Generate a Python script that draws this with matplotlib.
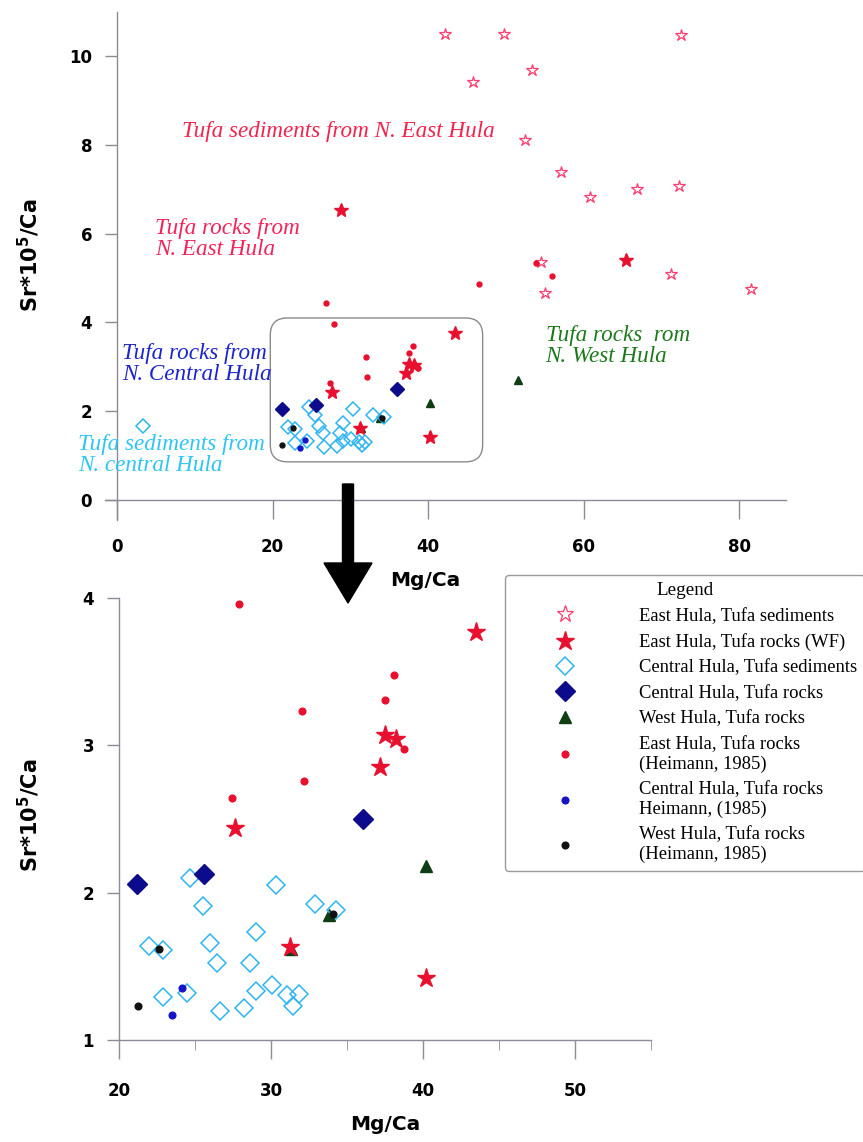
import matplotlib
matplotlib.use("Agg")
import matplotlib.pyplot as plt
from matplotlib.patches import FancyArrow, FancyBboxPatch
from matplotlib.lines import Line2D

plt.rcParams['font.family'] = 'DejaVu Sans'
plt.rcParams['mathtext.fontset'] = 'dejavusans'

# East Hula, tufa sediments
ehs_x = [42.1, 49.7, 72.5, 53.4, 45.8, 52.4, 57.1, 60.8, 66.8, 72.3, 54.5, 55.0, 71.2, 81.5]
ehs_y = [10.49, 10.50, 10.47, 9.69, 9.42, 8.10, 7.39, 6.83, 7.00, 7.08, 5.37, 4.66, 5.08, 4.76]

# East Hula, tufa rocks (WF)
ehr_x = [43.5, 37.5, 38.2, 37.2, 27.65, 31.25, 40.2, 28.8, 65.4]
ehr_y = [3.77, 3.07, 3.04, 2.85, 2.44, 1.63, 1.42, 6.53, 5.41]

# Central Hula, tufa sediments
chs_x = [24.65, 30.3, 25.5, 32.87, 34.26, 29.0, 22.0, 22.9, 26.0, 26.47,
         28.64, 30.09, 29.0, 31.07, 31.86, 31.47, 28.24, 26.62, 24.47, 22.9, 3.4]
chs_y = [2.10, 2.05, 1.91, 1.92, 1.88, 1.73, 1.64, 1.61, 1.66, 1.52,
         1.52, 1.37, 1.33, 1.305, 1.31, 1.23, 1.215, 1.20, 1.32, 1.29, 1.67]

# Central Hula, tufa rocks
chr_x = [21.2, 25.57, 36.03]
chr_y = [2.06, 2.13, 2.50]

# West Hula, tufa rocks
whr_x = [40.2, 51.5, 33.8, 31.3]
whr_y = [2.18, 2.70, 1.85, 1.62]

# Heimann (1985) tufa rocks
ehh_x = [27.9, 38.07, 37.48, 32.04, 38.73, 32.17, 27.41, 26.9, 46.5, 53.9, 55.9]
ehh_y = [3.96, 3.48, 3.31, 3.23, 2.975, 2.76, 2.645, 4.44, 4.87, 5.33, 5.05]
chh_x = [24.17, 23.5]
chh_y = [1.35, 1.17]
whh_x = [21.23, 22.65, 34.08]
whh_y = [1.23, 1.62, 1.855]

labels = ["East Hula, Tufa sediments", "East Hula, Tufa rocks (WF)",
          "Central Hula, Tufa sediments", "Central Hula, Tufa rocks",
          "West Hula, Tufa rocks", "East Hula, Tufa rocks\n(Heimann, 1985)",
          "Central Hula, Tufa rocks\nHeimann, (1985)",
          "West Hula, Tufa rocks\n(Heimann, 1985)"]

PINK = '#ff3d6e'
RED = '#e8102e'
CYAN = '#2fb4f2'
NAVY = '#0b0b8c'
DKGREEN = '#0f3d14'
BLUE = '#1414c8'


def draw_points(ax, s):
    h = []
    h.append(ax.plot(ehs_x, ehs_y, ls='none', marker='*', ms=11 * s, mfc='none',
                     mec=PINK, mew=0.9, label=labels[0], zorder=3)[0])
    h.append(ax.plot(whr_x, whr_y, ls='none', marker='^', ms=7 * s, color=DKGREEN,
                     label=labels[4], zorder=3)[0])
    h.append(ax.plot(ehr_x, ehr_y, ls='none', marker='*', ms=12 * s, color=RED,
                     mec=RED, label=labels[1], zorder=4)[0])
    h.append(ax.plot(chs_x, chs_y, ls='none', marker='D', ms=8 * s, mfc='none',
                     mec=CYAN, mew=1.1, label=labels[2], zorder=4)[0])
    h.append(ax.plot(chr_x, chr_y, ls='none', marker='D', ms=8.5 * s, color=NAVY,
                     label=labels[3], zorder=4)[0])
    h.append(ax.plot(ehh_x, ehh_y, ls='none', marker='o', ms=4.2 * s, color=RED,
                     label=labels[5], zorder=5)[0])
    h.append(ax.plot(chh_x, chh_y, ls='none', marker='o', ms=4.2 * s, color=BLUE,
                     label=labels[6], zorder=5)[0])
    h.append(ax.plot(whh_x, whh_y, ls='none', marker='o', ms=4.2 * s, color='#111111',
                     label=labels[7], zorder=5)[0])
    order = [0, 2, 3, 4, 1, 5, 6, 7]
    return [h[i] for i in order]


def style_axis(ax):
    for side in ['top', 'right']:
        ax.spines[side].set_visible(False)
    for side in ['left', 'bottom']:
        ax.spines[side].set_color('#8c8c98')
        ax.spines[side].set_linewidth(1.0)
    ax.tick_params(colors='#8c8c98', labelcolor='black', width=1.0)
    for lab in ax.get_xticklabels() + ax.get_yticklabels():
        lab.set_fontweight('bold')
        lab.set_fontsize(12)


ylabel = r'Sr*10$^{\mathbf{5}}$/Ca'

fig = plt.figure(figsize=(8.63, 11.42), dpi=100)

# overview panel
ax1 = fig.add_axes([104.6 / 863, 622 / 1142, 681.4 / 863, 508.4 / 1142])
draw_points(ax1, 0.85)
ax1.set_xlim(-1.6, 86)
ax1.set_ylim(-0.45, 11.0)
ax1.spines['left'].set_position(('data', 0))
ax1.spines['bottom'].set_position(('data', 0))
ax1.set_xticks([0, 20, 40, 60, 80])
ax1.set_yticks([0, 2, 4, 6, 8, 10])
ax1.tick_params(axis='x', direction='out', length=14, pad=13)
ax1.tick_params(axis='y', direction='out', length=9, pad=9)
style_axis(ax1)
ax1.set_xlabel('Mg/Ca', fontsize=14.5, fontweight='bold')
ax1.xaxis.set_label_coords(0.470, -0.100)
ax1.set_ylabel(ylabel, fontsize=15, fontweight='bold')
ax1.yaxis.set_label_coords(-0.092, 0.521)

# zoom frame around the clustered samples
frame = FancyBboxPatch((19.7, 0.86), 27.3, 3.24,
                       boxstyle='round,pad=0,rounding_size=2.2',
                       mutation_aspect=7.78 / 44.4, fc='none', ec='#8a8a8a',
                       lw=1.0, zorder=2)
ax1.add_patch(frame)

tfont = dict(family='Liberation Serif', style='italic', fontsize=16.7,
             va='center', ha='left', linespacing=1.0)
ax1.text(8.35, 8.31, 'Tufa sediments from N. East Hula', color='#f2234d', **tfont)
ax1.text(4.9, 5.87, 'Tufa rocks from\nN. East Hula', color='#f2235a', **tfont)
ax1.text(0.64, 3.07, 'Tufa rocks from\nN. Central Hula', color='#1c24cc', **tfont)
ax1.text(-5.0, 1.02, 'Tufa sediments from\nN. central Hula', color='#2ec4f4', **tfont)
ax1.text(55.1, 3.47, 'Tufa rocks  rom\nN. West Hula', color='#1c7a1c', **tfont)

# detail panel
ax2 = fig.add_axes([119 / 863, 102 / 1142, 532 / 863, 442 / 1142])
handles = draw_points(ax2, 1.15)
ax2.set_xlim(20, 55)
ax2.set_ylim(1, 4)
ax2.set_xticks([20, 30, 40, 50])
ax2.set_xticks([25, 35, 45, 55], minor=True)
ax2.set_yticks([1, 2, 3, 4])
ax2.tick_params(axis='x', which='major', direction='out', length=14, pad=16)
ax2.tick_params(axis='x', which='minor', direction='out', length=7, color='#8c8c98')
ax2.tick_params(axis='y', direction='out', length=9, pad=9)
style_axis(ax2)
ax2.set_xlabel('Mg/Ca', fontsize=14.5, fontweight='bold')
ax2.xaxis.set_label_coords(0.500, -0.170)
ax2.set_ylabel(ylabel, fontsize=15, fontweight='bold')
ax2.yaxis.set_label_coords(-0.145, 0.509)

# arrow linking the two panels
fig.add_artist(FancyArrow(3.48, 6.58, 0, -1.19, width=0.11, head_width=0.48,
                          head_length=0.40, length_includes_head=True,
                          color='black', transform=fig.dpi_scale_trans))

leg = fig.legend(handles=handles, loc='upper left',
                 bbox_to_anchor=(505 / 863, 1 - 575 / 1142),
                 bbox_transform=fig.transFigure, borderaxespad=0,
                 title='Legend', prop=dict(family='Liberation Serif', size=13.4),
                 title_fontproperties=dict(family='Liberation Serif', size=13.7),
                 borderpad=0.4, handlelength=5.7, handletextpad=1.1,
                 labelspacing=0.45, fancybox=True, framealpha=1,
                 edgecolor='#9a9a9a')
leg.get_frame().set_linewidth(1.0)

# underline the legend title
fig.canvas.draw()
tb = leg.get_title().get_window_extent().transformed(fig.transFigure.inverted())
fig.add_artist(Line2D([tb.x0, tb.x1], [tb.y0 + 0.001, tb.y0 + 0.001],
                      color='black', lw=0.9, transform=fig.transFigure))

fig.savefig('out.png', dpi=100)
